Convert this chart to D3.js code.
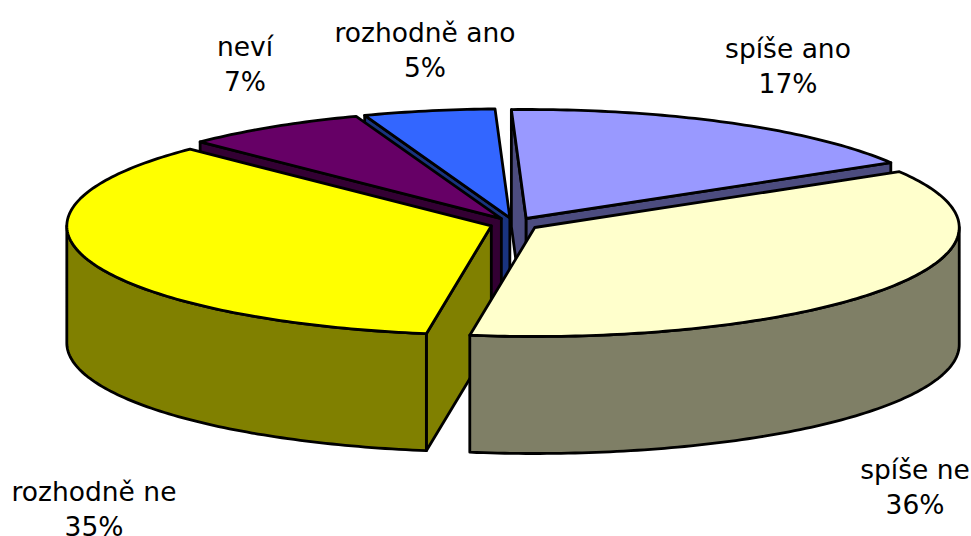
<!DOCTYPE html>
<html>
<head>
<meta charset="utf-8">
<style>html,body{margin:0;padding:0;background:#fff}svg{display:block}text{font-family:"DejaVu Sans",Verdana,sans-serif;font-size:26.5px;fill:#000}</style>
<script src="https://cdnjs.cloudflare.com/ajax/libs/d3/7.8.5/d3.min.js"></script>
</head>
<body>
<svg id="c" width="971" height="536"></svg>
<script>
const categories = ["spíše ano", "spíše ne", "rozhodně ne", "neví", "rozhodně ano"];
const values = [17, 36, 35, 7, 5];
const topColors = ["#9999FF", "#FFFFCC", "#FFFF00", "#660066", "#3366FF"];
const sideColors = ["#4C4C7F", "#7F7F66", "#808000", "#330033", "#19337F"];
const drawOrder = [4, 3, 0, 2, 1];
const labelAnchors = [[788, 58], [915, 479], [94, 501], [245, 56], [425, 42]];

const cx = 514.5, cy = 224, rx = 424.5, ry = 109, depth = 117, explode = 0.0575;
const firstAngle = -2 * Math.PI / 180;
const svg = d3.select("#c");

const arcs = d3.pie().sort(null).startAngle(firstAngle).endAngle(firstAngle + 2 * Math.PI)(values);
const sx = d3.scaleLinear().domain([-1, 1]).range([cx - rx, cx + rx]);
const sy = d3.scaleLinear().domain([-1, 1]).range([cy - ry, cy + ry]);
const line = d3.line();

function project(a, ox, oy, dz) {
  return [sx(Math.sin(a)) + ox, sy(-Math.cos(a)) + oy + dz];
}
function sample(a0, a1) {
  const n = Math.max(2, Math.ceil(Math.abs(a1 - a0) * 60));
  return d3.range(n + 1).map(i => a0 + (a1 - a0) * i / n);
}

const g = svg.append("g").attr("stroke", "#000").attr("stroke-width", 2.8).attr("stroke-linejoin", "round");

drawOrder.forEach(i => {
  const d = arcs[i];
  const mid = (d.startAngle + d.endAngle) / 2;
  const ox = explode * rx * Math.sin(mid), oy = -explode * ry * Math.cos(mid);
  const apex = [cx + ox, cy + oy];
  const slice = g.append("g").attr("class", "slice");
  const face = (pts, fill) => slice.append("path").attr("d", line(pts) + "Z").attr("fill", fill);
  const down = p => [p[0], p[1] + depth];

  const pS = project(d.startAngle, ox, oy, 0), pE = project(d.endAngle, ox, oy, 0);
  // start cut face: faces the viewer when the edge lies in the left half
  if (Math.sin(d.startAngle) < 0) {
    face([apex, pS, down(pS), down(apex)], sideColors[i]);
  }
  // end cut face: faces the viewer when the edge lies in the right half
  if (Math.sin(d.endAngle) > 0) {
    face([apex, pE, down(pE), down(apex)], sideColors[i]);
  }
  // outer wall for the front half
  const a0 = Math.max(d.startAngle, Math.PI / 2), a1 = Math.min(d.endAngle, 1.5 * Math.PI);
  if (a1 > a0) {
    const top = sample(a0, a1).map(a => project(a, ox, oy, 0));
    face(top.concat(top.slice().reverse().map(down)), sideColors[i]);
  }
  // top face
  const rim = sample(d.startAngle, d.endAngle).map(a => project(a, ox, oy, 0));
  face([apex].concat(rim), topColors[i]);
});

const labels = svg.append("g").attr("text-anchor", "middle");
categories.forEach((c, i) => {
  const t = labels.append("text").attr("x", labelAnchors[i][0]).attr("y", labelAnchors[i][1]);
  t.append("tspan").attr("x", labelAnchors[i][0]).text(c);
  t.append("tspan").attr("x", labelAnchors[i][0]).attr("dy", 35).text(values[i] + "%");
});
</script>
</body>
</html>
